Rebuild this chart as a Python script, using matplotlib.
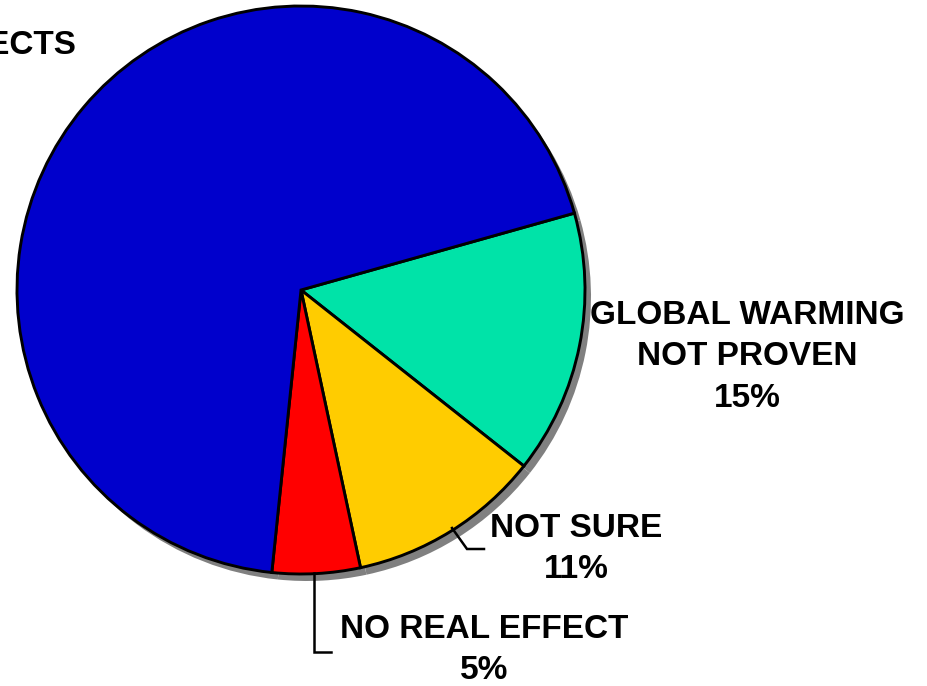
import matplotlib
matplotlib.use("Agg")
import matplotlib.pyplot as plt

# Data (clockwise from the green slice)
categories = ["GLOBAL WARMING\nNOT PROVEN", "NOT SURE", "NO REAL EFFECT", "SERIOUS EFFECTS"]
values = [15, 11, 5, 69]
colors = ["#00E3A8", "#FFCC00", "#FF0000", "#0000CC"]

W, H = 928, 686
fig = plt.figure(figsize=(W / 100, H / 100), dpi=100)
ax = fig.add_axes([0, 0, 1, 1])

cx, cy, r = 301, H - 290, 284
start = 15.7

# shadow
ax.pie(values, colors=["#808080"] * len(values), startangle=start, counterclock=False,
       center=(cx + 6, cy - 7), radius=r, frame=True,
       wedgeprops=dict(linewidth=0))
# main pie
ax.pie(values, colors=colors, startangle=start, counterclock=False,
       center=(cx, cy), radius=r, frame=True,
       wedgeprops=dict(edgecolor="black", linewidth=2.1))
ax.set_xlim(0, W)
ax.set_ylim(0, H)
ax.set_aspect("equal")
ax.axis("off")

font = dict(family=["Liberation Sans", "DejaVu Sans"], fontweight="bold", fontsize=24,
            color="black")

def lab(i):
    return f"{values[i]}%"

# GLOBAL WARMING NOT PROVEN
ax.text(747, H - 357, categories[0] + "\n" + lab(0), ha="center", va="center",
        multialignment="center", linespacing=1.42, **font)
# NOT SURE
ax.text(576, H - 549, categories[1] + "\n" + lab(1), ha="center", va="center",
        multialignment="center", linespacing=1.42, **font)
# NO REAL EFFECT
ax.text(484, H - 650, categories[2] + "\n" + lab(2), ha="center", va="center",
        multialignment="center", linespacing=1.42, **font)
# SERIOUS EFFECTS label (cut at the left edge, as in the reference)
ax.text(76, H - 45, categories[3], ha="right", va="center", **font)

# leader lines
ax.plot([452, 467, 484], [H - 528, H - 549, H - 549], color="black", lw=1.8,
        solid_joinstyle="miter")
ax.plot([314, 314, 331], [H - 573, H - 652, H - 652], color="black", lw=1.8,
        solid_joinstyle="miter")

fig.savefig("out.png", dpi=100)
